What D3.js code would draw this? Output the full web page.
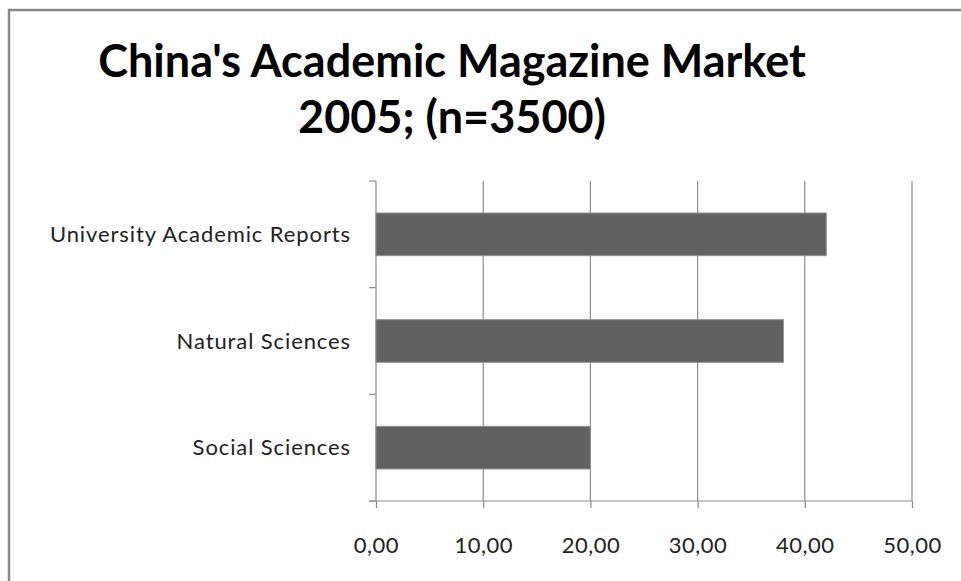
<!DOCTYPE html>
<html>
<head>
<meta charset="utf-8">
<script src="https://cdn.jsdelivr.net/npm/d3@7"></script>
<style>
  body { margin: 0; background: #fff; }
  svg { display: block; }
</style>
</head>
<body>
<div id="chart"></div>
<script>
// chart data
let categories = ["University Academic Reports", "Natural Sciences", "Social Sciences"];
let values = [42, 38, 20];
let ticks = [0, 10, 20, 30, 40, 50];
let titleLines = ["China's Academic Magazine Market", "2005; (n=3500)"];

let width = 961;
let height = 581;
let margin = {top: 181, right: 49, bottom: 80, left: 376};

let svg = d3.select("#chart")
            .append("svg")
            .attr("width", width)
            .attr("height", height);

// outer frame (runs off right and bottom edge)
svg.append("rect")
   .attr("x", 9)
   .attr("y", 10)
   .attr("width", width + 20)
   .attr("height", height + 20)
   .style("fill", "none")
   .style("stroke", "#888")
   .style("stroke-width", 2.5);

// title
svg.selectAll("text.title")
   .data(titleLines)
   .enter()
   .append("text")
   .attr("class", "title")
   .attr("x", 452)
   .attr("y", (d, i) => 77 + i * 56)
   .attr("text-anchor", "middle")
   .style("font-family", "Lato, 'Open Sans', sans-serif")
   .style("font-weight", "bold")
   .style("font-size", "45px")
   .style("fill", "#000")
   .text(d => d);

let x = d3.scaleLinear()
          .domain([0, 50])
          .range([margin.left, width - margin.right]);

let y = d3.scaleBand()
          .domain(categories)
          .range([margin.top, height - margin.bottom])
          .paddingInner(0.6)
          .paddingOuter(0.3);

let plotBottom = height - margin.bottom;

// vertical gridlines
svg.selectAll("line.grid")
   .data(ticks.slice(1))
   .enter()
   .append("line")
   .attr("class", "grid")
   .attr("x1", d => x(d))
   .attr("x2", d => x(d))
   .attr("y1", margin.top)
   .attr("y2", plotBottom)
   .style("stroke", "#8c8c8c")
   .style("stroke-width", 1.2);

// category axis
let yAxisG = svg.append("g");
yAxisG.append("line")
      .attr("x1", x(0)).attr("x2", x(0))
      .attr("y1", margin.top).attr("y2", plotBottom)
      .style("stroke", "#8c8c8c").style("stroke-width", 1.2);

let catTicks = d3.range(categories.length + 1).map(i => margin.top + i * (plotBottom - margin.top) / categories.length);
yAxisG.selectAll("line.ctick")
      .data(catTicks)
      .enter()
      .append("line")
      .attr("class", "ctick")
      .attr("x1", x(0) - 7).attr("x2", x(0))
      .attr("y1", d => d).attr("y2", d => d)
      .style("stroke", "#8c8c8c").style("stroke-width", 1.2);

yAxisG.selectAll("text")
      .data(categories)
      .enter()
      .append("text")
      .attr("x", 351)
      .attr("y", d => y(d) + y.bandwidth() / 2)
      .attr("dy", "0.35em")
      .attr("text-anchor", "end")
      .style("font-family", "Lato, 'Open Sans', sans-serif")
      .style("font-size", "22px")
      .style("letter-spacing", "0.9px")
      .style("fill", "#222")
      .text(d => d);

// value axis
let xAxis = d3.axisBottom(x)
              .tickValues(ticks)
              .tickSize(7)
              .tickFormat(d => d3.format(".2f")(d).replace(".", ","));

let xAxisG = svg.append("g")
   .attr("transform", "translate(0," + plotBottom + ")")
   .call(xAxis);
xAxisG.select(".domain").style("stroke", "#8c8c8c").style("stroke-width", 1.2)
      .attr("d", "M" + (x(0) - 7) + ",0H" + x(50));
xAxisG.selectAll(".tick line").style("stroke", "#8c8c8c").style("stroke-width", 1.2);
xAxisG.selectAll(".tick text")
      .attr("y", 44)
      .attr("dy", "0.35em")
      .style("font-family", "Lato, 'Open Sans', sans-serif")
      .style("font-size", "22px")
      .style("letter-spacing", "0.5px")
      .style("fill", "#222");

// bars
svg.selectAll("rect.bar")
   .data(values)
   .enter()
   .append("rect")
   .attr("class", "bar")
   .attr("x", x(0))
   .attr("y", (d, i) => y(categories[i]))
   .attr("width", d => x(d) - x(0))
   .attr("height", y.bandwidth())
   .style("fill", "#616161")
   .style("stroke", "#909090")
   .style("stroke-width", 1);
</script>
</body>
</html>
